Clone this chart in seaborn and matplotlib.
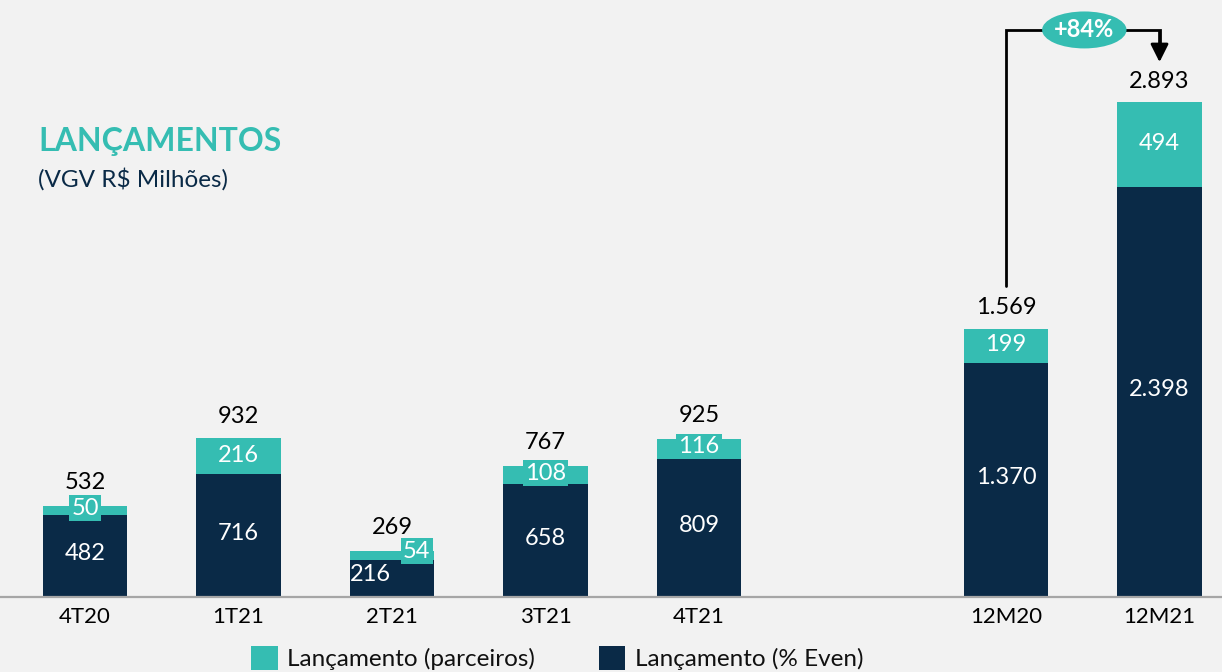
import numpy as np
import pandas as pd
import matplotlib
matplotlib.use("Agg")
import matplotlib.pyplot as plt
from matplotlib.patches import Patch, Ellipse
import seaborn as sns

# ---- data ----
categories = ["4T20", "1T21", "2T21", "3T21", "4T21", "12M20", "12M21"]
even_vals = [482, 716, 216, 658, 809, 1370, 2398]
parceiros_vals = [50, 216, 54, 108, 116, 199, 494]
total_labels = ["532", "932", "269", "767", "925", "1.569", "2.893"]
even_labels = ["482", "716", "216", "658", "809", "1.370", "2.398"]
parc_labels = ["50", "216", "54", "108", "116", "199", "494"]
growth_label = "+84%"

TEAL = "#35BDB2"
NAVY = "#0A2A47"
BG = "#F2F2F2"

sns.set_theme(style="white")
plt.rcParams["font.family"] = ["Lato", "DejaVu Sans"]

totals = [e + p for e, p in zip(even_vals, parceiros_vals)]
df = pd.DataFrame({"cat": categories, "even": even_vals, "parc": parceiros_vals, "total": totals})
order = categories[:5] + [" "] + categories[5:]
pos = {c: i for i, c in enumerate(order)}

fig = plt.figure(figsize=(12.22, 6.72), dpi=100, facecolor=BG)
ax = fig.add_axes([0, 75 / 672, 1, 597 / 672])
ax.set_facecolor(BG)

sns.barplot(data=df, x="cat", y="total", order=order, color=TEAL, width=0.55,
            errorbar=None, saturation=1, ax=ax, edgecolor="none")
sns.barplot(data=df, x="cat", y="even", order=order, color=NAVY, width=0.55,
            errorbar=None, saturation=1, ax=ax, edgecolor="none")

ax.set_xlim(-0.554, 7.407)
ax.set_ylim(0, 3489)
for s in ["top", "right", "left"]:
    ax.spines[s].set_visible(False)
ax.spines["bottom"].set_color("#A6A6A6")
ax.spines["bottom"].set_linewidth(1.6)
ax.set_yticks([])
ax.set_xlabel("")
ax.set_ylabel("")
ax.tick_params(axis="x", length=0, pad=7, labelsize=16, labelcolor="#000000")

FS = 17
for i, c in enumerate(categories):
    x = pos[c]
    e, p, t = even_vals[i], parceiros_vals[i], totals[i]
    small = p < 150
    off = 75 if small else 60
    ax.text(x, t + off, total_labels[i], ha="center", va="bottom", fontsize=FS, color="#000000")
    if c == "2T21":
        ax.text(x - 0.14, e * 0.6, even_labels[i], ha="center", va="center", fontsize=FS, color="white")
        ax.text(x + 0.16, e + p / 2 + 25, parc_labels[i], ha="center", va="center", fontsize=FS,
                color="white", bbox=dict(boxstyle="square,pad=0.1", fc=TEAL, ec="none"))
        continue
    ax.text(x, e / 2 + 15, even_labels[i], ha="center", va="center", fontsize=FS, color="white")
    if small:
        ax.text(x, e + p / 2 + 12, parc_labels[i], ha="center", va="center", fontsize=FS,
                color="white", bbox=dict(boxstyle="square,pad=0.1", fc=TEAL, ec="none"))
    else:
        ax.text(x, e + p / 2 + 5, parc_labels[i], ha="center", va="center", fontsize=FS, color="white")

# growth arrow connector
x0, x1 = pos["12M20"], pos["12M21"]
y_start = totals[5] + 250
y_top = 3314
y_tip = totals[6] + 234
ax.plot([x0, x0, x1, x1], [y_start, y_top, y_top, y_tip + 60], color="black", lw=2,
        clip_on=False, solid_joinstyle="miter")
ax.annotate("", xy=(x1, y_tip), xytext=(x1, y_top - 10),
            arrowprops=dict(arrowstyle="-|>,head_length=0.9,head_width=0.45", color="black", lw=2,
                            shrinkA=0, shrinkB=0), annotation_clip=False)
xm = (x0 + x1) / 2 + 0.01
ell = Ellipse((xm, y_top), width=0.55, height=216, facecolor=TEAL, edgecolor="none", zorder=5,
              clip_on=False)
ax.add_patch(ell)
ax.text(xm, y_top, growth_label, ha="center", va="center", fontsize=17, fontweight="bold",
        color="white", zorder=6)

# titles
fig.text(38 / 1222, 1 - 151 / 672, "LANÇAMENTOS", fontsize=23, fontweight="bold", color=TEAL,
         ha="left", va="baseline")
fig.text(38 / 1222, 1 - 187 / 672, "(VGV R$ Milhões)", fontsize=17.5, color=NAVY,
         ha="left", va="baseline")

handles = [Patch(facecolor=TEAL, edgecolor="none", label="Lançamento (parceiros)"),
           Patch(facecolor=NAVY, edgecolor="none", label="Lançamento (% Even)")]
fig.legend(handles=handles, loc="lower center", bbox_to_anchor=(0.456, -0.03), ncol=2,
           frameon=False, fontsize=17.5, handlelength=1.1, handleheight=1.1, columnspacing=2.6,
           handletextpad=0.4, labelcolor="#111111")

fig.savefig("out.png", dpi=100, facecolor=BG)
